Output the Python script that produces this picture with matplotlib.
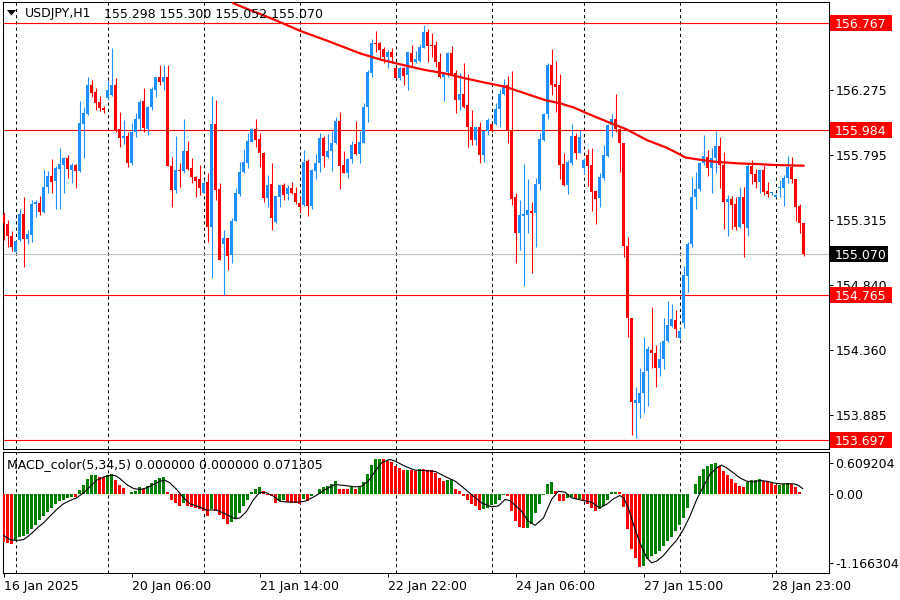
import matplotlib
matplotlib.use("Agg")
import matplotlib.pyplot as plt
import matplotlib.transforms as mtransforms
from matplotlib.patches import Rectangle, Polygon

plt.rcParams['font.family'] = ['DejaVu Sans']
plt.rcParams['font.size'] = 9

# USDJPY H1 candles, oldest bar first (bar 0 = 16 Jan)
opens = [
    155.355, 155.289, 155.200, 155.085, 155.171, 155.362, 155.176, 155.208, 155.436, 155.446,
    155.379, 155.559, 155.642, 155.605, 155.696, 155.725, 155.774, 155.686, 155.723, 155.681,
    156.025, 156.098, 156.312, 156.258, 156.189, 156.145, 156.218, 156.238, 156.312, 155.985,
    155.919, 155.936, 155.735, 155.968, 156.061, 156.194, 155.985, 156.152, 156.275, 156.368,
    156.336, 156.368, 155.718, 155.539, 155.686, 155.681, 155.826, 155.698, 155.637, 155.617,
    155.519, 155.600, 155.269, 156.025, 155.544, 155.139, 155.183, 155.061, 155.311, 155.510,
    155.674, 155.740, 155.895, 155.985, 155.912, 155.814, 155.483, 155.581, 155.306, 155.490,
    155.576, 155.507, 155.551, 155.514, 155.441, 155.429, 155.752, 155.424, 155.681, 155.735,
    155.924, 155.784, 155.828, 155.882, 156.047, 155.723, 155.666, 155.765, 155.877, 155.804,
    155.887, 156.152, 156.397, 156.623, 156.618, 156.574, 156.515, 156.557, 156.434, 156.365,
    156.434, 156.385, 156.545, 156.483, 156.488, 156.581, 156.699, 156.606, 156.606, 156.483,
    156.373, 156.405, 156.545, 156.397, 156.201, 156.245, 156.164, 156.005, 155.907, 156.000,
    155.796, 155.973, 156.022, 156.025, 156.135, 156.243, 156.312, 155.980, 155.485, 155.225,
    155.348, 155.355, 155.384, 155.372, 155.581, 155.907, 156.096, 156.459, 156.319, 156.312,
    155.730, 155.576, 155.740, 155.936, 155.814, 155.698, 155.796, 155.723, 155.532, 155.478,
    155.630, 155.789, 156.017, 156.059, 155.985, 155.882, 155.127, 154.599, 153.974, 153.969,
    154.048, 154.209, 154.362, 154.342, 154.227, 154.293, 154.430, 154.541, 154.582, 154.447,
    154.558, 154.906, 155.142, 155.485, 155.544, 155.735, 155.784, 155.698, 155.772, 155.863,
    155.723, 155.448, 155.473, 155.436, 155.269, 155.485, 155.262, 155.716, 155.657, 155.600,
    155.686, 155.532, 155.514, 155.485, 155.551, 155.551, 155.625, 155.711, 155.620, 155.421,
    155.298]
highs = [
    155.380, 155.318, 155.240, 155.171, 155.397, 155.490, 155.245, 155.465, 155.465, 155.495,
    155.686, 155.681, 155.765, 155.716, 155.850, 155.784, 155.796, 155.740, 155.730, 156.194,
    156.152, 156.368, 156.348, 156.287, 156.231, 156.157, 156.341, 156.581, 156.361, 156.115,
    156.054, 155.968, 156.029, 156.103, 156.201, 156.287, 156.157, 156.294, 156.373, 156.459,
    156.459, 156.459, 155.784, 155.936, 155.735, 156.061, 155.899, 155.772, 155.642, 155.723,
    155.612, 155.662, 156.231, 156.201, 155.588, 155.245, 155.183, 155.330, 155.551, 155.747,
    155.841, 155.956, 155.998, 156.059, 155.956, 155.821, 155.649, 155.735, 155.495, 155.576,
    155.593, 155.576, 155.600, 155.563, 155.490, 155.833, 155.765, 155.691, 155.804, 155.956,
    155.936, 155.949, 155.973, 156.079, 156.110, 155.826, 155.772, 155.899, 156.047, 155.976,
    156.177, 156.422, 156.648, 156.709, 156.630, 156.594, 156.569, 156.581, 156.446, 156.446,
    156.446, 156.557, 156.606, 156.562, 156.613, 156.753, 156.724, 156.692, 156.635, 156.545,
    156.410, 156.557, 156.599, 156.422, 156.402, 156.476, 156.392, 156.128, 156.000, 156.037,
    155.976, 156.066, 156.029, 156.182, 156.280, 156.356, 156.378, 156.415, 155.519, 155.465,
    155.730, 155.620, 155.453, 155.630, 155.961, 156.103, 156.476, 156.574, 156.488, 156.392,
    155.809, 155.760, 156.025, 155.961, 155.980, 155.772, 155.841, 155.846, 155.532, 155.666,
    155.870, 156.025, 156.098, 156.245, 155.998, 155.887, 155.191, 154.599, 154.092, 154.232,
    154.460, 154.393, 154.680, 154.398, 154.423, 154.595, 154.722, 154.700, 154.656, 154.521,
    154.982, 155.159, 155.637, 155.674, 155.747, 155.944, 155.833, 155.846, 155.973, 155.931,
    155.821, 155.502, 155.495, 155.490, 155.563, 155.563, 155.740, 155.760, 155.693, 155.691,
    155.723, 155.600, 155.527, 155.510, 155.612, 155.649, 155.792, 155.784, 155.620, 155.436,
    155.300]
lows = [
    155.171, 155.122, 155.093, 155.080, 155.166, 154.975, 155.139, 155.159, 155.343, 155.355,
    155.367, 155.514, 155.514, 155.402, 155.402, 155.514, 155.625, 155.588, 155.551, 155.674,
    155.777, 156.091, 156.226, 156.128, 156.123, 156.103, 156.201, 156.231, 155.968, 155.858,
    155.877, 155.706, 155.723, 155.931, 155.980, 155.968, 155.944, 156.128, 156.226, 156.312,
    156.275, 155.718, 155.411, 155.519, 155.563, 155.662, 155.686, 155.588, 155.485, 155.502,
    155.514, 155.159, 154.894, 155.465, 155.024, 154.766, 154.950, 155.000, 155.311, 155.495,
    155.662, 155.698, 155.895, 155.858, 155.706, 155.453, 155.416, 155.245, 155.299, 155.416,
    155.465, 155.465, 155.507, 155.436, 155.367, 155.424, 155.348, 155.399, 155.620, 155.674,
    155.711, 155.772, 155.681, 155.877, 155.546, 155.662, 155.630, 155.735, 155.796, 155.735,
    155.882, 156.042, 156.373, 156.557, 156.495, 156.471, 156.434, 156.471, 156.361, 156.348,
    156.312, 156.275, 156.446, 156.471, 156.483, 156.581, 156.483, 156.520, 156.446, 156.361,
    156.196, 156.373, 156.392, 156.103, 156.128, 156.140, 155.858, 155.870, 155.870, 155.740,
    155.747, 155.944, 155.968, 156.017, 156.005, 156.238, 155.882, 155.429, 155.004, 155.097,
    154.835, 155.220, 154.931, 155.117, 155.539, 155.902, 156.059, 156.238, 156.115, 155.620,
    155.568, 155.510, 155.723, 155.765, 155.809, 155.657, 155.568, 155.387, 155.286, 155.416,
    155.612, 155.784, 155.931, 155.968, 155.674, 155.043, 154.460, 153.736, 153.712, 153.859,
    153.896, 153.952, 154.227, 154.092, 154.173, 154.219, 154.423, 154.533, 154.460, 154.440,
    154.521, 154.791, 155.117, 155.397, 155.534, 155.723, 155.642, 155.514, 155.662, 155.551,
    155.249, 155.203, 155.249, 155.245, 155.257, 155.043, 155.203, 155.581, 155.551, 155.514,
    155.502, 155.490, 155.502, 155.485, 155.490, 155.424, 155.588, 155.588, 155.313, 155.225,
    155.052]
closes = [
    155.294, 155.200, 155.122, 155.166, 155.362, 155.176, 155.215, 155.436, 155.448, 155.379,
    155.559, 155.642, 155.600, 155.698, 155.730, 155.774, 155.691, 155.725, 155.681, 156.029,
    156.103, 156.312, 156.255, 156.182, 156.140, 156.128, 156.275, 156.312, 155.976, 155.919,
    155.936, 155.740, 155.968, 156.061, 156.189, 155.993, 156.152, 156.280, 156.368, 156.336,
    156.368, 155.718, 155.539, 155.686, 155.681, 155.826, 155.691, 155.637, 155.608, 155.551,
    155.593, 155.269, 156.025, 155.539, 155.024, 155.183, 155.053, 155.311, 155.514, 155.674,
    155.742, 155.899, 155.985, 155.907, 155.814, 155.483, 155.576, 155.331, 155.495, 155.576,
    155.502, 155.556, 155.514, 155.453, 155.416, 155.742, 155.424, 155.686, 155.735, 155.924,
    155.789, 155.826, 155.882, 156.047, 155.718, 155.666, 155.765, 155.870, 155.804, 155.895,
    156.147, 156.410, 156.623, 156.611, 156.569, 156.515, 156.557, 156.520, 156.365, 156.434,
    156.378, 156.557, 156.483, 156.500, 156.589, 156.699, 156.601, 156.601, 156.483, 156.373,
    156.405, 156.549, 156.392, 156.201, 156.245, 156.152, 156.005, 155.907, 156.000, 155.796,
    155.973, 156.054, 155.980, 156.135, 156.245, 156.312, 155.976, 155.473, 155.225, 155.355,
    155.360, 155.392, 155.372, 155.581, 155.912, 156.098, 156.459, 156.312, 156.299, 155.723,
    155.576, 155.742, 155.936, 155.809, 155.931, 155.760, 155.718, 155.527, 155.473, 155.632,
    155.796, 156.017, 156.059, 155.985, 155.882, 155.129, 154.599, 153.981, 153.994, 154.043,
    154.202, 154.369, 154.342, 154.227, 154.295, 154.428, 154.546, 154.590, 154.514, 154.501,
    154.913, 155.142, 155.485, 155.544, 155.740, 155.789, 155.698, 155.772, 155.863, 155.723,
    155.448, 155.473, 155.429, 155.269, 155.485, 155.286, 155.716, 155.654, 155.600, 155.686,
    155.522, 155.510, 155.519, 155.502, 155.559, 155.625, 155.711, 155.620, 155.416, 155.294,
    155.070]

# red moving average (bar index, price)
ma_bars = [57, 57.5, 67.9, 74.1, 81.6, 89.1, 94.1, 99.9, 105.4, 110.4, 115.4, 120.4, 125.4,
           130.4, 135.4, 139.1, 142.5, 147.5, 151.6, 155.8, 160.8, 165.8, 169.1, 170.4,
           172.9, 177.9, 183.7, 188.7, 192.9, 200]
ma_values = [156.93, 156.912, 156.790, 156.711, 156.630, 156.545, 156.500, 156.459, 156.422,
             156.397, 156.361, 156.329, 156.299, 156.250, 156.201, 156.177, 156.147, 156.083,
             156.034, 155.985, 155.907, 155.850, 155.801, 155.779, 155.767, 155.747, 155.735,
             155.730, 155.723, 155.718]

# MACD_color(5,34,5) histogram, one value per bar
macd_hist = [
    -0.709, -0.726, -0.734, -0.676, -0.634, -0.626, -0.600, -0.525, -0.467, -0.392,
    -0.334, -0.267, -0.209, -0.158, -0.113, -0.088, -0.063, -0.050, -0.052, 0.050,
    0.122, 0.220, 0.267, 0.279, 0.239, 0.238, 0.275, 0.288, 0.205, 0.132,
    0.083, -0.008, 0.017, 0.042, 0.098, 0.067, 0.108, 0.158, 0.192, 0.229,
    0.242, 0.017, -0.088, -0.137, -0.183, -0.138, -0.183, -0.200, -0.213, -0.221,
    -0.250, -0.325, -0.234, -0.259, -0.309, -0.375, -0.442, -0.417, -0.359, -0.284,
    -0.183, -0.088, 0.017, 0.067, 0.092, 0.033, -0.017, -0.039, -0.133, -0.113,
    -0.100, -0.125, -0.133, -0.142, -0.150, -0.078, -0.113, -0.039, -0.005, 0.067,
    0.092, 0.108, 0.133, 0.183, 0.067, 0.065, 0.063, 0.092, 0.067, 0.092,
    0.171, 0.292, 0.425, 0.500, 0.509, 0.500, 0.484, 0.459, 0.409, 0.375,
    0.342, 0.350, 0.342, 0.334, 0.359, 0.354, 0.350, 0.342, 0.300, 0.229,
    0.181, 0.195, 0.209, 0.067, 0.033, -0.039, -0.088, -0.158, -0.183, -0.242,
    -0.234, -0.209, -0.175, -0.147, -0.088, -0.025, -0.039, -0.259, -0.409, -0.492,
    -0.509, -0.500, -0.442, -0.292, -0.158, -0.025, 0.133, 0.167, 0.033, -0.113,
    -0.117, -0.067, -0.058, -0.083, -0.075, -0.108, -0.158, -0.209, -0.259, -0.234,
    -0.183, -0.088, 0.017, 0.025, 0.021, -0.192, -0.525, -0.809, -0.942, -1.076,
    -1.068, -0.967, -0.917, -0.884, -0.842, -0.776, -0.701, -0.634, -0.550, -0.467,
    -0.359, -0.209, -0.004, 0.133, 0.250, 0.367, 0.400, 0.434, 0.450, 0.409,
    0.334, 0.275, 0.217, 0.158, 0.108, 0.092, 0.167, 0.192, 0.196, 0.217,
    0.190, 0.171, 0.147, 0.125, 0.129, 0.146, 0.158, 0.133, 0.092, 0.017,
    0.0]

# signal line (bar index, value)
signal_bars = [0, 1.6, 3.3, 5, 6.2, 7.5, 8.7, 10, 11.6, 13.3, 15, 16.6, 18.3, 20, 21.6, 23.3,
               25, 26.6, 27.9, 29.1, 30.8, 32.5, 34.1, 35.8, 37.5, 39.1, 40.4, 41.6, 43.3, 45,
               46.6, 48.3, 50.8, 53.3, 55.8, 57.9, 59.1, 60.8, 62.5, 64.1, 65.8, 67.5, 69.1,
               70.8, 73.7, 75.4, 77.9, 80.4, 82.9, 85.4, 87.9, 89.5, 91.2, 92.9, 94.5, 96.6,
               97.9, 100.4, 102.9, 105.4, 107.9, 110.4, 112.9, 114.5, 117, 119.5, 122, 123.7,
               125.4, 126.6, 129.5, 131.2, 132.9, 135, 137, 138.7, 140.4, 142, 144.5, 147,
               148.3, 149.1, 150.8, 152.5, 154.1, 155, 156.2, 157.5, 159.1, 160.8, 162, 163.3,
               165, 166.6, 168.3, 170, 171.6, 173.3, 175, 176.6, 178.3, 179.5, 180.8, 182.5,
               184.1, 185.8, 187.5, 189.1, 190.8, 192.5, 194.1, 195.8, 197.5, 198.7, 199.8]
signal_values = [-0.617, -0.676, -0.689, -0.676, -0.626, -0.559, -0.492, -0.430, -0.334, -0.234,
                 -0.150, -0.103, -0.063, 0.010, 0.098, 0.195, 0.242, 0.267, 0.264, 0.220,
                 0.132, 0.073, 0.058, 0.083, 0.132, 0.181, 0.195, 0.156, 0.058, -0.063,
                 -0.150, -0.183, -0.242, -0.242, -0.309, -0.371, -0.359, -0.259, -0.088, 0.019,
                 0.010, -0.039, -0.113, -0.125, -0.125, -0.113, -0.039, 0.058, 0.132, 0.117,
                 0.098, 0.108, 0.181, 0.325, 0.450, 0.500, 0.475, 0.400, 0.342, 0.337,
                 0.325, 0.250, 0.181, 0.108, -0.015, -0.137, -0.195, -0.183, -0.088, -0.103,
                 -0.259, -0.405, -0.467, -0.359, -0.088, 0.033, 0.019, -0.063, -0.098, -0.125,
                 -0.183, -0.209, -0.158, -0.078, -0.029, -0.063, -0.209, -0.455, -0.723, -0.942,
                 -1.017, -0.992, -0.909, -0.796, -0.684, -0.525, -0.334, -0.088, 0.108, 0.279,
                 0.375, 0.417, 0.375, 0.303, 0.229, 0.181, 0.171, 0.190, 0.181, 0.156,
                 0.142, 0.142, 0.142, 0.122, 0.071]

levels = [156.767, 155.984, 154.765, 153.697]
last_price = 155.070
price_ticks = [156.275, 155.795, 155.315, 154.840, 154.360, 153.885]
time_ticks = [0, 32, 64, 96, 128, 160, 192]
time_labels = ['16 Jan 2025', '20 Jan 06:00', '21 Jan 14:00', '22 Jan 22:00',
               '24 Jan 06:00', '27 Jan 15:00', '28 Jan 23:00']
day_starts = [3, 26, 50, 74, 98, 122, 145, 169, 193]

BULL = '#1E90FF'
BEAR = '#FF0000'
GREEN = '#008000'

W, H = 900, 600
fig = plt.figure(figsize=(9, 6), dpi=100)
ax = fig.add_axes([2.5 / W, 1 - 449 / H, 826 / W, 447 / H])
ax2 = fig.add_axes([2.5 / W, 1 - 573 / H, 826 / W, 121 / H])

idx = list(range(len(closes)))

# candles
col = [BULL if c >= o else BEAR for o, c in zip(opens, closes)]
ax.vlines(idx, lows, highs, colors=col, lw=0.8, zorder=3)
bottoms = [min(o, c) for o, c in zip(opens, closes)]
heights = [max(abs(c - o), 0.008) for o, c in zip(opens, closes)]
ax.bar(idx, heights, bottom=bottoms, width=0.75, color=col, lw=0, zorder=4)

ax.plot(ma_bars, ma_values, color='red', lw=1.6, zorder=5)

for lv in levels:
    ax.axhline(lv, color='red', lw=0.8, zorder=2)
ax.axhline(last_price, color='#C0C0C0', lw=0.8, zorder=2)

for a in (ax, ax2):
    for d in day_starts:
        a.axvline(d, color='black', lw=0.75, ls=(0, (3, 3)), zorder=1)
    a.set_xlim(-0.25, 206.25)
    for s in a.spines.values():
        s.set_linewidth(0.75)
    a.yaxis.tick_right()
    a.tick_params(axis='y', direction='out', length=3, width=0.75, pad=2, labelsize=9)

ax.set_ylim(153.6334, 156.9225)
ax.set_yticks(price_ticks)
ax.set_yticklabels(['%.3f' % p for p in price_ticks])
ax.tick_params(axis='x', bottom=False, labelbottom=False)

# price labels on the right scale
trans = mtransforms.blended_transform_factory(fig.transFigure, ax.transData)
box_h = 16 / 135.9


def price_box(level, face, width_px):
    ax.add_patch(Rectangle((830 / W, level - box_h / 2), width_px / W, box_h, transform=trans,
                           facecolor=face, edgecolor='none', clip_on=False, zorder=10))
    ax.text(835 / W, level, '%.3f' % level, transform=trans, color='white', fontsize=9,
            va='center_baseline', ha='left', clip_on=False, zorder=11)


for lv in levels:
    price_box(lv, '#FF0000', 62)
price_box(last_price, 'black', 58)

# MACD window
hist_col = [BEAR]
for a, b in zip(macd_hist[:-1], macd_hist[1:]):
    hist_col.append(GREEN if b > a else BEAR)
ax2.bar(idx, macd_hist, width=0.75, color=hist_col, lw=0, zorder=3)
ax2.plot(signal_bars, signal_values, color='black', lw=0.8, zorder=4)
ax2.set_ylim(-1.166304, 0.609204)
ax2.set_yticks([0.4545, 0.0, -1.026])
ax2.set_yticklabels(['0.609204', '0.00', '-1.166304'])
ax2.set_xticks(time_ticks)
ax2.set_xticklabels(time_labels)
ax2.tick_params(axis='x', direction='out', length=3, width=0.75, pad=2, labelsize=9)
for lab in ax2.get_xticklabels():
    lab.set_horizontalalignment('left')

# header: menu triangle, symbol and OHLC of the last bar
fig.add_artist(Polygon([(7 / W, 1 - 10 / H), (16 / W, 1 - 10 / H), (11.5 / W, 1 - 15.5 / H)],
                       closed=True, transform=fig.transFigure, facecolor='black', edgecolor='none'))
fig.text(25 / W, 1 - 14 / H, 'USDJPY,H1', fontsize=9, va='center', ha='left')
fig.text(104 / W, 1 - 14 / H, '155.298 155.300 155.052 155.070', fontsize=9, va='center', ha='left')
fig.text(7 / W, 1 - 465 / H, 'MACD_color(5,34,5) 0.000000 0.000000 0.071305', fontsize=9,
         va='center', ha='left')

fig.savefig('out.png', dpi=100)
